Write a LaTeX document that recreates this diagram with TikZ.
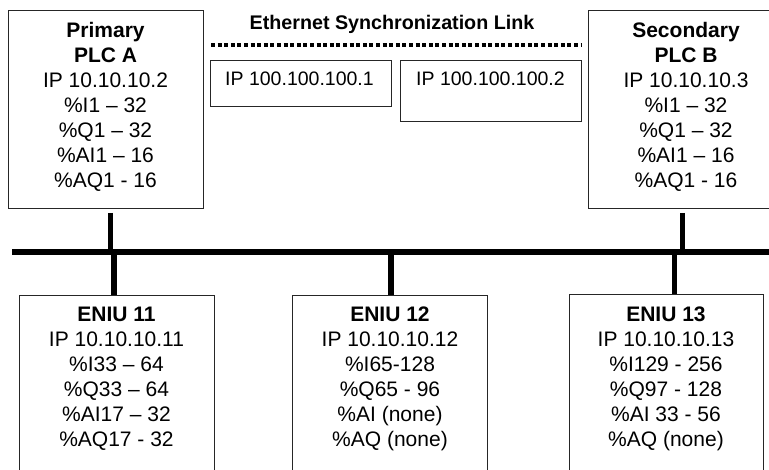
\documentclass[tikz,border=0pt]{standalone}
\usepackage{fontspec}
\setmainfont{Liberation Sans}
\begin{document}
\begin{tikzpicture}[x=1pt,y=-1pt,
  box/.style={draw=black!85, line width=0.9pt, rectangle, inner sep=0pt, anchor=north west},
  txt/.style={align=center, inner sep=0pt, anchor=base, font=\fontsize{21}{25}\selectfont},
  iptxt/.style={inner sep=0pt, anchor=base, font=\fontsize{19.5}{23}\selectfont},
  ttl/.style={inner sep=0pt, anchor=base, font=\fontsize{19.7}{23}\selectfont\bfseries},
  wire/.style={line width=5.8pt, line cap=butt, black},
  dotline/.style={line width=4pt, dash pattern=on 4pt off 2.6pt, black}]
\useasboundingbox (0,0) rectangle (769,470);
\clip (0,0) rectangle (769,470);
% boxes
\node[box, minimum width=195pt, minimum height=198pt] (plcA) at (8,10) {};
\node[box, minimum width=196pt, minimum height=198pt] (plcB) at (588,10) {};
\node[box, minimum width=181pt, minimum height=45.5pt] (ip1) at (210,60.5) {};
\node[box, minimum width=181pt, minimum height=61pt] (ip2) at (400,60) {};
\node[box, minimum width=195pt, minimum height=200pt] (e11) at (19,295) {};
\node[box, minimum width=195pt, minimum height=200pt] (e12) at (292,295) {};
\node[box, minimum width=194pt, minimum height=200pt] (e13) at (569,294.5) {};
% texts (base anchor = baseline of the last line)
\node[ttl] (title) at (392,29.3) {Ethernet Synchronization Link};
\node[iptxt] (ip1t) at (299.5,86) {IP 100.100.100.1};
\node[iptxt] (ip2t) at (490.5,86) {IP 100.100.100.2};
\node[txt] (plcAt) at (105.5,187.3) {\textbf{Primary}\\\textbf{PLC A}\\IP 10.10.10.2\\\%I1 – 32\\\%Q1 – 32\\\%AI1 – 16\\\%AQ1 - 16};
\node[txt] (plcBt) at (686,187.3) {\textbf{Secondary}\\\textbf{PLC B}\\IP 10.10.10.3\\\%I1 – 32\\\%Q1 – 32\\\%AI1 – 16\\\%AQ1 - 16};
\node[txt] (e11t) at (116.5,446.7) {\textbf{ENIU 11}\\IP 10.10.10.11\\\%I33 – 64\\\%Q33 – 64\\\%AI17 – 32\\\%AQ17 - 32};
\node[txt] (e12t) at (390,446.7) {\textbf{ENIU 12}\\IP 10.10.10.12\\\%I65-128\\\%Q65 - 96\\\%AI (none)\\\%AQ (none)};
\node[txt] (e13t) at (666,446.7) {\textbf{ENIU 13}\\IP 10.10.10.13\\\%I129 - 256\\\%Q97 - 128\\\%AI 33 - 56\\\%AQ (none)};
% sync link
\coordinate (sL) at (211,45);
\coordinate (sR) at (581,45);
\draw[dotline] (sL) -- (sR);
% bus
\coordinate (busL) at (12,252);
\coordinate (busR) at (780,252);
\draw[wire] (busL) -- (busR);
\coordinate (dA) at ([xshift=4.5pt,yshift=-4pt]plcA.south);
\coordinate (dB) at ([xshift=-4pt,yshift=-4pt]plcB.south);
\draw[wire] (dA) -- (dA |- busL);
\draw[wire] (dB) -- (dB |- busL);
\coordinate (d11) at ([xshift=-2.7pt]e11.north);
\coordinate (d12) at ([xshift=0.8pt]e12.north);
\coordinate (d13) at ([xshift=8pt]e13.north);
\draw[wire] (d11 |- busL) -- (d11);
\draw[wire] (d12 |- busL) -- (d12);
\draw[wire] (d13 |- busL) -- (d13);
\end{tikzpicture}
\end{document}
